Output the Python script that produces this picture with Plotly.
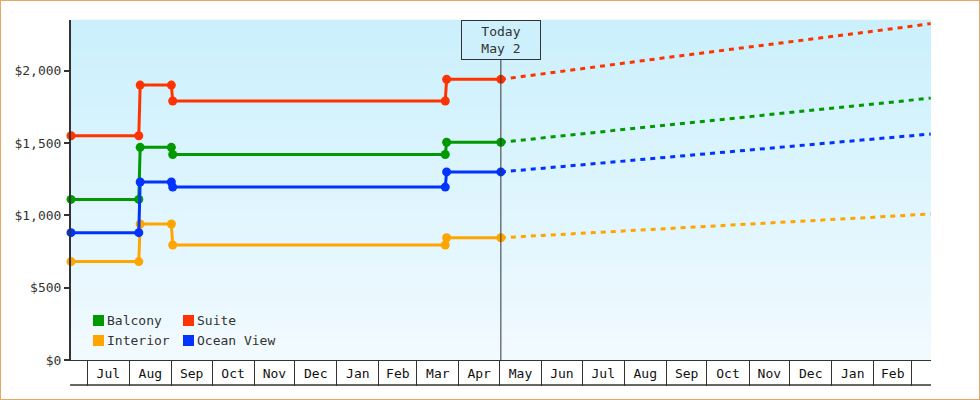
import plotly.graph_objects as go

# cabin price history (step changes) up to today
price_dates = ['2024-06-19', '2024-08-08', '2024-08-09', '2024-09-01',
               '2024-09-02', '2025-03-22', '2025-03-23', '2025-05-02']
balcony = [1110, 1110, 1470, 1470, 1420, 1420, 1505, 1505]
suite = [1550, 1550, 1900, 1900, 1790, 1790, 1940, 1940]
interior = [680, 680, 940, 940, 795, 795, 845, 845]
ocean_view = [880, 880, 1230, 1230, 1195, 1195, 1300, 1300]

# projected prices after today
forecast_dates = ['2025-05-02', '2025-06-01', '2025-07-01', '2025-08-01', '2025-09-01',
                  '2025-10-01', '2025-11-01', '2025-12-01', '2026-01-01', '2026-02-01',
                  '2026-03-01', '2026-03-15']
balcony_fc = [1505, 1535, 1565, 1595, 1624, 1652, 1682, 1711, 1740, 1770, 1797, 1810]
suite_fc = [1940, 1978, 2016, 2053, 2090, 2126, 2162, 2198, 2236, 2273, 2307, 2325]
interior_fc = [845, 860, 876, 892, 908, 924, 940, 955, 971, 987, 1002, 1009]
ocean_view_fc = [1300, 1325, 1350, 1377, 1403, 1427, 1452, 1477, 1503, 1528, 1550, 1562]

today = '2025-05-02'
today_label = 'Today<br>May 2'

series = [
    ('Balcony', '#009900', balcony, balcony_fc),
    ('Suite', '#ff3300', suite, suite_fc),
    ('Interior', '#ffa500', interior, interior_fc),
    ('Ocean View', '#0033ff', ocean_view, ocean_view_fc),
]

FONT = 'DejaVu Sans Mono'
TXT = '#333333'

# plot area in pixels
L, R, T, B = 71, 49, 20, 40
W, H = 980, 400
PW, PH = W - L - R, H - T - B


def px(x):
    return (x - L) / PW


def py(y):
    return (H - B - y) / PH


fig = go.Figure()

for name, color, hist, fc in series:
    fig.add_trace(go.Scatter(
        x=price_dates, y=hist, mode='lines+markers', name=name,
        line=dict(color=color, width=3),
        marker=dict(color=color, size=9),
        cliponaxis=False, showlegend=False
    ))
    fig.add_trace(go.Scatter(
        x=forecast_dates, y=fc, mode='lines', name=name + ' forecast',
        line=dict(color=color, width=3, dash='5px,5px'),
        showlegend=False
    ))

shapes = []

# background gradient, light blue to almost white
n = 34
top_c = (203, 240, 252)
bot_c = (241, 250, 255)
for i in range(n):
    t = i / (n - 1)
    c = tuple(round(top_c[k] + (bot_c[k] - top_c[k]) * t) for k in range(3))
    shapes.append(dict(type='rect', xref='paper', yref='paper', layer='below',
                       x0=0, x1=1, y0=1 - (i + 1) / n, y1=1 - i / n + 0.001,
                       line=dict(width=0), fillcolor='rgb(%d,%d,%d)' % c))

# today line
shapes.append(dict(type='line', xref='x', yref='paper', x0=today, x1=today,
                   y0=0, y1=1, line=dict(color=TXT, width=1)))

# bottom line of month strip
shapes.append(dict(type='line', xref='paper', yref='paper', x0=px(70), x1=1,
                   y0=py(385), y1=py(385), line=dict(color=TXT, width=1.5)))

# outer border
shapes.append(dict(type='rect', xref='paper', yref='paper',
                   x0=px(0), x1=px(W), y0=py(H), y1=py(0),
                   line=dict(color='#e8a862', width=2)))

annotations = [dict(
    x=today, xref='x', y=1, yref='paper', yanchor='top', xanchor='center',
    text=today_label, showarrow=False, align='center',
    font=dict(family=FONT, size=13, color=TXT),
    bordercolor=TXT, borderwidth=1, borderpad=0, bgcolor='#cdf0fc',
    width=78, height=38
)]

# legend drawn as two columns of colour squares
legend_pos = {'Balcony': (93, 320.5), 'Suite': (183, 320.5),
              'Interior': (93, 340.5), 'Ocean View': (183, 340.5)}
for name, color, _, _ in series:
    x0, yc = legend_pos[name]
    shapes.append(dict(type='rect', xref='paper', yref='paper',
                       x0=px(x0), x1=px(x0 + 11), y0=py(yc + 5.5), y1=py(yc - 5.5),
                       line=dict(width=0), fillcolor=color))
    annotations.append(dict(x=px(x0 + 12), y=py(yc), xref='paper', yref='paper',
                            xanchor='left', yanchor='middle', text=name, showarrow=False,
                            font=dict(family=FONT, size=13, color=TXT)))

fig.update_layout(
    width=W, height=H,
    margin=dict(l=L, r=R, t=T, b=B),
    paper_bgcolor='white', plot_bgcolor='white',
    font=dict(family=FONT, size=13, color=TXT),
    shapes=shapes, annotations=annotations,
    showlegend=False,
    xaxis=dict(
        type='date', range=['2024-06-19 00:00', '2026-03-15 05:00'],
        dtick='M1', tick0='2024-07-01', tickformat='%b', ticklabelmode='period',
        ticks='outside', ticklen=25, tickwidth=1, tickcolor=TXT,
        ticklabelstandoff=-24, ticklabeloverflow='hide past domain',
        showgrid=False, zeroline=False,
        showline=True, linecolor=TXT, linewidth=1,
        tickfont=dict(family=FONT, size=13, color='#111111'),
    ),
    yaxis=dict(
        range=[0, 2350], dtick=500, tickprefix='$', tickformat=',d',
        ticks='outside', ticklen=5, tickwidth=2, tickcolor=TXT,
        showgrid=False, zeroline=False,
        showline=True, linecolor=TXT, linewidth=2,
        tickfont=dict(family=FONT, size=13, color=TXT),
    ),
)

fig.write_html('out.html', config={'displayModeBar': False},
               post_script="document.body.style.margin='0';")
